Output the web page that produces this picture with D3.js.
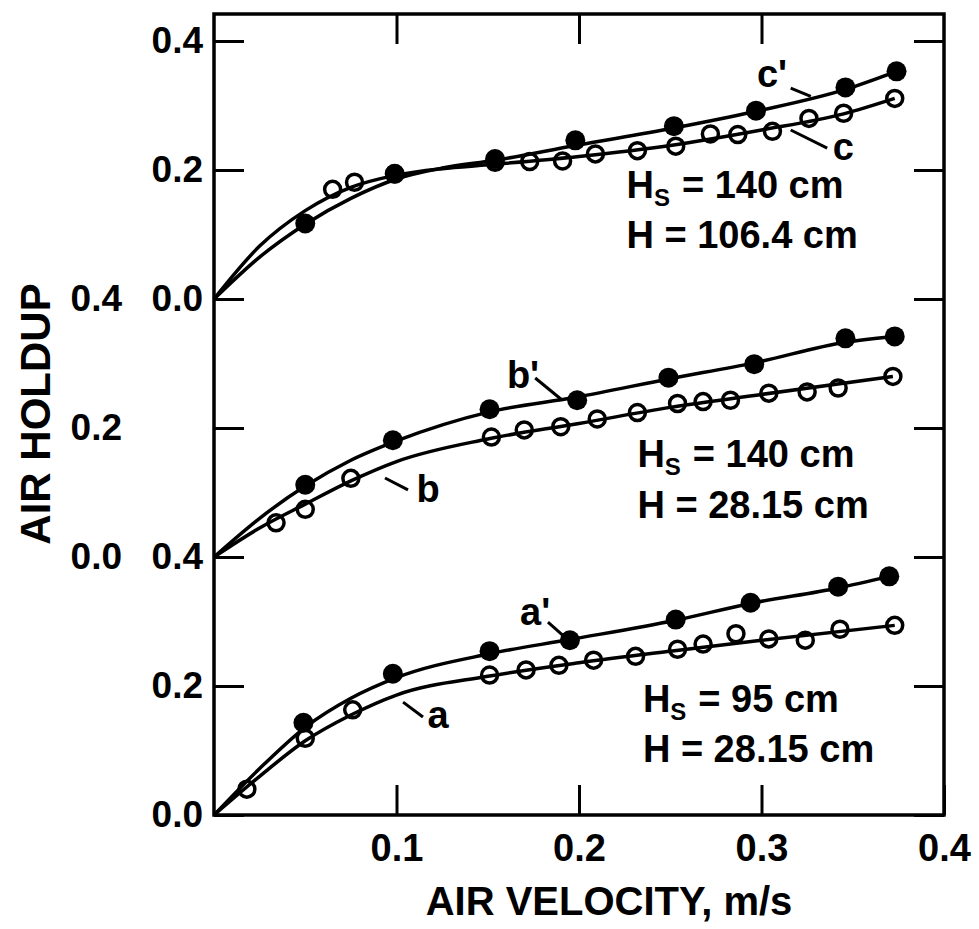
<html>
<meta charset="UTF-8">
<head>
    <title>Air Holdup vs Air Velocity</title>
    <script src="https://d3js.org/d3.v7.min.js"></script>
    <style>
        body { margin: 0; background: white; }
        svg text { font-family: "Liberation Sans", Arial, sans-serif; font-weight: bold; fill: black; }
        .axis path.domain { display: none; }
        .axis line { stroke: black; stroke-width: 3; }
    </style>
</head>
<body>
    <svg id="graph" width="979" height="929"></svg>
</body>
<script>
    // ---- data: [air velocity m/s, air holdup] ----
    // top panel, Hs = 140 cm, H = 106.4 cm
    const cOpen = [[0.065,0.170],[0.077,0.181],[0.099,0.194],[0.154,0.212],[0.173,0.213],[0.191,0.214],
        [0.209,0.225],[0.232,0.230],[0.253,0.237],[0.272,0.256],[0.287,0.255],[0.306,0.260],
        [0.326,0.280],[0.345,0.288],[0.373,0.311]];
    const cFilled = [[0.050,0.117],[0.099,0.194],[0.154,0.217],[0.198,0.246],[0.252,0.268],
        [0.297,0.292],[0.346,0.328],[0.374,0.353]];
    const cCurve = [[0,0],[0.025,0.082],[0.05,0.137],[0.075,0.173],[0.1,0.192],[0.125,0.202],[0.15,0.208],
        [0.2,0.221],[0.25,0.238],[0.3,0.262],[0.345,0.287],[0.373,0.311]];
    const cPrimeCurve = [[0,0],[0.025,0.065],[0.05,0.116],[0.075,0.156],[0.1,0.186],[0.125,0.203],[0.154,0.215],
        [0.198,0.238],[0.252,0.265],[0.297,0.291],[0.346,0.325],[0.374,0.353]];

    // middle panel, Hs = 140 cm, H = 28.15 cm
    const bOpen = [[0.034,0.053],[0.050,0.074],[0.075,0.122],[0.152,0.186],[0.170,0.197],[0.190,0.202],
        [0.210,0.214],[0.232,0.224],[0.254,0.238],[0.268,0.241],[0.283,0.243],[0.304,0.254],
        [0.325,0.256],[0.342,0.262],[0.372,0.280]];
    const bFilled = [[0.050,0.112],[0.098,0.181],[0.151,0.229],[0.199,0.243],[0.249,0.278],
        [0.296,0.299],[0.346,0.339],[0.373,0.342]];
    const bCurve = [[0,0],[0.025,0.045],[0.05,0.082],[0.075,0.118],[0.1,0.148],[0.15,0.183],[0.2,0.207],
        [0.25,0.232],[0.3,0.252],[0.372,0.280]];
    const bPrimeCurve = [[0,0],[0.025,0.060],[0.05,0.110],[0.075,0.150],[0.1,0.180],[0.151,0.225],[0.199,0.248],
        [0.249,0.276],[0.296,0.301],[0.346,0.333],[0.373,0.342]];

    // bottom panel, Hs = 95 cm, H = 28.15 cm
    const aOpen = [[0.018,0.040],[0.050,0.119],[0.076,0.163],[0.151,0.217],[0.171,0.225],[0.189,0.232],
        [0.208,0.240],[0.231,0.246],[0.254,0.257],[0.268,0.265],[0.286,0.281],[0.304,0.273],
        [0.324,0.271],[0.343,0.288],[0.373,0.294]];
    const aFilled = [[0.049,0.143],[0.098,0.219],[0.151,0.254],[0.195,0.271],[0.253,0.303],
        [0.294,0.329],[0.342,0.354],[0.370,0.370]];
    const aCurve = [[0,0],[0.025,0.060],[0.05,0.115],[0.075,0.155],[0.1,0.186],[0.15,0.215],[0.2,0.236],
        [0.25,0.254],[0.3,0.271],[0.373,0.294]];
    const aPrimeCurve = [[0,0],[0.025,0.072],[0.05,0.136],[0.075,0.181],[0.1,0.213],[0.151,0.250],[0.195,0.272],
        [0.253,0.302],[0.294,0.328],[0.342,0.352],[0.370,0.370]];

    const xTickValues = [0.1, 0.2, 0.3, 0.4];
    const yTickValues = [0.0, 0.2, 0.4];
    const xTitle = "AIR VELOCITY, m/s";
    const yTitle = "AIR HOLDUP";

    // ---- layout ----
    const g = d3.select("svg#graph");
    const frame = {left: 214, right: 944, top: 14, bottom: 815};
    const panelHeight = 258;
    const tickLen = 30;

    const xScale = d3.scaleLinear().domain([0, 0.4]).range([frame.left, frame.right]);
    const makeY = base => d3.scaleLinear().domain([0, 0.4]).range([base, base - panelHeight]);
    const yBot = makeY(frame.bottom);
    const yMid = makeY(frame.bottom - panelHeight);
    const yTop = makeY(frame.bottom - 2 * panelHeight);

    const annotations = g.append("g").attr("id", "annotations");
    const chartArea = g.append("g").attr("id", "points");

    // frame
    annotations.append("rect")
        .attr("x", frame.left).attr("y", frame.top)
        .attr("width", frame.right - frame.left)
        .attr("height", frame.bottom - frame.top)
        .attr("fill", "none").attr("stroke", "black").attr("stroke-width", 3.5);

    // y axes, labels on two columns like the original
    const fmt = d3.format(".1f");
    [[yTop, 11], [yMid, 92], [yBot, 11]].forEach(([ys, pad]) => {
        annotations.append("g")
            .attr("class", "axis")
            .attr("transform", `translate(${frame.left},0)`)
            .call(d3.axisLeft(ys).tickValues(yTickValues).tickSize(-tickLen).tickPadding(pad).tickFormat(fmt))
            .selectAll("text").style("font-size", "37px");
        annotations.append("g")
            .attr("class", "axis")
            .attr("transform", `translate(${frame.right},0)`)
            .call(d3.axisRight(ys).tickValues(yTickValues).tickSize(-tickLen).tickFormat(""));
    });

    // x axes
    annotations.append("g")
        .attr("class", "axis")
        .attr("transform", `translate(0,${frame.bottom})`)
        .call(d3.axisBottom(xScale).tickValues(xTickValues).tickSize(-tickLen).tickPadding(19).tickFormat(fmt))
        .selectAll("text").style("font-size", "38px");
    annotations.append("g")
        .attr("class", "axis")
        .attr("transform", `translate(0,${frame.top})`)
        .call(d3.axisTop(xScale).tickValues(xTickValues.slice(0, 3)).tickSize(-tickLen).tickFormat(""));

    // axis titles
    g.append("text")
        .attr("x", 609).attr("y", 915)
        .attr("text-anchor", "middle")
        .style("font-size", "40px")
        .text(xTitle);
    g.append("text")
        .attr("transform", "translate(50,414) rotate(-90)")
        .attr("text-anchor", "middle")
        .style("font-size", "42px")
        .text(yTitle);

    // curves and markers
    const panels = [
        {ys: yTop, open: cOpen, filled: cFilled, curves: [cCurve, cPrimeCurve]},
        {ys: yMid, open: bOpen, filled: bFilled, curves: [bCurve, bPrimeCurve]},
        {ys: yBot, open: aOpen, filled: aFilled, curves: [aCurve, aPrimeCurve]}
    ];

    panels.forEach(p => {
        const line = d3.line()
            .x(d => xScale(d[0]))
            .y(d => p.ys(d[1]))
            .curve(d3.curveMonotoneX);
        p.curves.forEach(c => {
            chartArea.append("path")
                .attr("d", line(c))
                .attr("fill", "none")
                .attr("stroke", "black")
                .attr("stroke-width", 3.5);
        });
        chartArea.append("g").selectAll("circle")
            .data(p.open)
            .join("circle")
            .attr("cx", d => xScale(d[0]))
            .attr("cy", d => p.ys(d[1]))
            .attr("r", 8)
            .attr("fill", "none")
            .attr("stroke", "black")
            .attr("stroke-width", 3.5);
        chartArea.append("g").selectAll("circle")
            .data(p.filled)
            .join("circle")
            .attr("cx", d => xScale(d[0]))
            .attr("cy", d => p.ys(d[1]))
            .attr("r", 10)
            .attr("fill", "black");
    });

    // curve labels with leader lines, positions in data units
    const leaderText = (ys, t, x, y, x1, y1, x2, y2) => {
        g.append("text")
            .attr("x", xScale(x)).attr("y", ys(y))
            .style("font-size", "38px")
            .text(t);
        g.append("line")
            .attr("x1", xScale(x1)).attr("y1", ys(y1))
            .attr("x2", xScale(x2)).attr("y2", ys(y2))
            .attr("stroke", "black").attr("stroke-width", 3);
    };
    leaderText(yTop, "c'", 0.2975, 0.329, 0.316, 0.327, 0.327, 0.314);
    leaderText(yTop, "c", 0.339, 0.216, 0.336, 0.234, 0.316, 0.262);
    leaderText(yMid, "b'", 0.1605, 0.262, 0.176, 0.2775, 0.1907, 0.2434);
    leaderText(yMid, "b", 0.111, 0.085, 0.0937, 0.1225, 0.1063, 0.104);
    leaderText(yBot, "a'", 0.1677, 0.2946, 0.183, 0.299, 0.191, 0.279);
    leaderText(yBot, "a", 0.117, 0.135, 0.1036, 0.175, 0.1145, 0.152);

    // condition notes (subscript drawn as its own small text)
    const note = (ys, x, y1, y2, hs, h) => {
        const x0 = xScale(x);
        const line1 = g.append("text")
            .attr("x", x0).attr("y", ys(y1))
            .style("font-size", "38px")
            .text("H");
        const hw = line1.node().getComputedTextLength();
        g.append("text")
            .attr("x", x0 + hw).attr("y", ys(y1) + 8)
            .style("font-size", "24px")
            .text("S");
        g.append("text")
            .attr("x", x0 + hw + 28).attr("y", ys(y1))
            .style("font-size", "38px")
            .text(`= ${hs} cm`);
        g.append("text")
            .attr("x", x0).attr("y", ys(y2))
            .style("font-size", "38px")
            .text(`H = ${h} cm`);
    };
    note(yTop, 0.226, 0.157, 0.079, "140", "106.4");
    note(yMid, 0.232, 0.140, 0.060, "140", "28.15");
    note(yBot, 0.235, 0.160, 0.082, "95", "28.15");
</script>
</html>
